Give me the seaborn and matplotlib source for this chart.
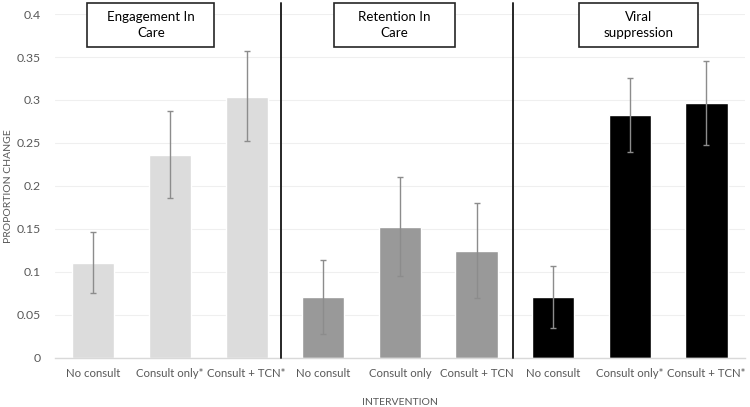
import matplotlib
matplotlib.use("Agg")
import matplotlib.pyplot as plt
import seaborn as sns
import pandas as pd
from matplotlib.patches import Rectangle

# ---- data ----
outcomes = ["Engagement In\nCare", "Retention In\nCare", "Viral\nsuppression"]
interventions = [
    ["No consult", "Consult only*", "Consult + TCN*"],
    ["No consult", "Consult only", "Consult + TCN"],
    ["No consult", "Consult only*", "Consult + TCN*"],
]
values = [
    [0.111, 0.236, 0.304],
    [0.071, 0.152, 0.124],
    [0.071, 0.282, 0.297],
]
err_low = [
    [0.075, 0.186, 0.252],
    [0.028, 0.095, 0.070],
    [0.035, 0.239, 0.248],
]
err_high = [
    [0.147, 0.287, 0.357],
    [0.114, 0.210, 0.180],
    [0.107, 0.326, 0.345],
]
colors = ["#DCDCDC", "#999999", "#000000"]

rows = []
for gi, outcome in enumerate(outcomes):
    for ii, lab in enumerate(interventions[gi]):
        rows.append(dict(key=f"{gi}-{ii}", label=lab, outcome=outcome,
                         value=values[gi][ii], lo=err_low[gi][ii], hi=err_high[gi][ii],
                         color=colors[gi]))
df = pd.DataFrame(rows)

sns.set_theme(style="white")
plt.rcParams["font.family"] = ["Lato", "DejaVu Sans"]

fig = plt.figure(figsize=(7.5, 4.07), dpi=100)
ax = fig.add_axes([0.0733, 0.1204, 0.9197, 0.8452])

palette = dict(zip(df["key"], df["color"]))
sns.barplot(data=df, x="key", y="value", hue="key", palette=palette, order=list(df["key"]),
            width=0.55, saturation=1, legend=False, ax=ax, errorbar=None)

xs = range(len(df))
ax.errorbar(list(xs), df["value"], yerr=[df["value"] - df["lo"], df["hi"] - df["value"]],
            fmt="none", ecolor="#8C8C8C", elinewidth=1.0, capsize=2.5, capthick=1.0, zorder=5)

ax.set_ylim(0, 0.4)
ax.set_xlim(-0.5, len(df) - 0.5)
ax.set_yticks([0, 0.05, 0.1, 0.15, 0.2, 0.25, 0.3, 0.35, 0.4])
ax.set_yticklabels(["0", "0.05", "0.1", "0.15", "0.2", "0.25", "0.3", "0.35", "0.4"])
ax.set_xticks(list(xs))
ax.set_xticklabels(df["label"])
ax.tick_params(axis="x", colors="#595959", labelsize=8.2, length=0, pad=7)
ax.tick_params(axis="y", colors="#595959", labelsize=8.8, length=0, pad=10)
ax.yaxis.grid(True, color="#EFEFEF", linewidth=0.8)
ax.set_axisbelow(True)
for s in ["top", "right", "left"]:
    ax.spines[s].set_visible(False)
ax.spines["bottom"].set_color("#D9D9D9")
ax.spines["bottom"].set_linewidth(1.0)

ax.set_ylabel("PROPORTION CHANGE", fontsize=7.5, color="#595959")
ax.yaxis.set_label_coords(-0.061, 0.5)
ax.set_xlabel("INTERVENTION", fontsize=7.5, color="#595959", labelpad=14)

# dividers
for xd in [2.45, 5.47]:
    ax.plot([xd, xd], [0, 0.4128], color="#262626", linewidth=1.4, clip_on=False, zorder=6)

# title boxes
box_centers = [0.75, 3.93, 7.11]
box_widths = [1.66, 1.58, 1.55]
for cx, w, t in zip(box_centers, box_widths, outcomes):
    ax.add_patch(Rectangle((cx - w / 2, 0.3616), w, 0.0512, facecolor="white",
                           edgecolor="#262626", linewidth=1.2, clip_on=False, zorder=7))
    ax.text(cx, 0.3872, t, ha="center", va="center", fontsize=9.6, color="#000000",
            linespacing=1.35, zorder=8)

fig.savefig("out.png", dpi=100)
